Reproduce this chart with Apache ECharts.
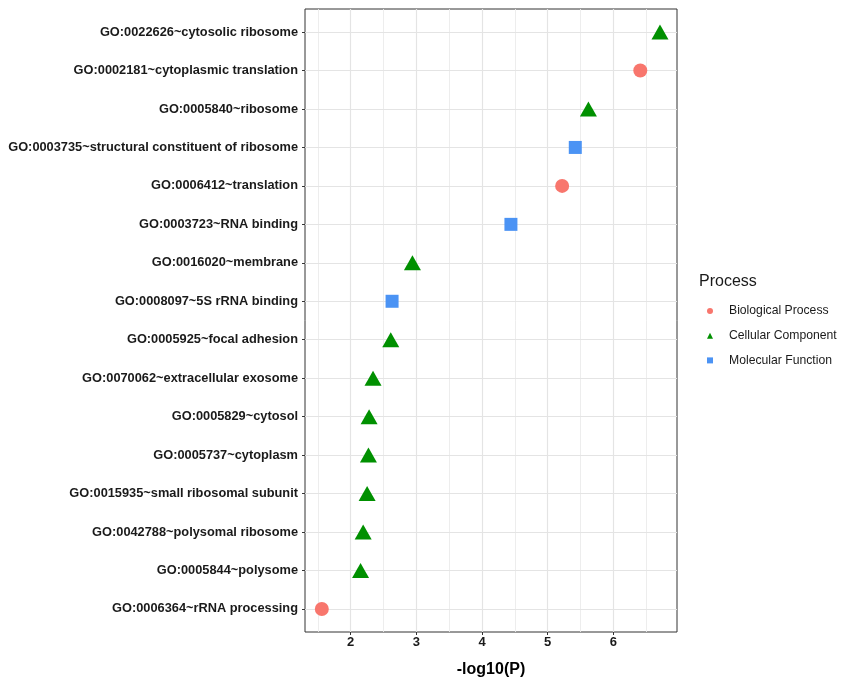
<!DOCTYPE html>
<html>
<head>
<meta charset="utf-8">
<script src="https://cdn.jsdelivr.net/npm/echarts@6/dist/echarts.min.js"></script>
<style>html,body{margin:0;padding:0;background:#fff}#chart{width:841px;height:677px}</style>
</head>
<body>
<div id="chart"></div>
<script>
const categories = [
  "GO:0022626~cytosolic ribosome",
  "GO:0002181~cytoplasmic translation",
  "GO:0005840~ribosome",
  "GO:0003735~structural constituent of ribosome",
  "GO:0006412~translation",
  "GO:0003723~RNA binding",
  "GO:0016020~membrane",
  "GO:0008097~5S rRNA binding",
  "GO:0005925~focal adhesion",
  "GO:0070062~extracellular exosome",
  "GO:0005829~cytosol",
  "GO:0005737~cytoplasm",
  "GO:0015935~small ribosomal subunit",
  "GO:0042788~polysomal ribosome",
  "GO:0005844~polysome",
  "GO:0006364~rRNA processing"
];
const logP = [6.71, 6.41, 5.62, 5.42, 5.22, 4.44, 2.94, 2.63, 2.61, 2.34, 2.28, 2.27, 2.25, 2.19, 2.15, 1.56];
const processOf = [
  "Cellular Component", "Biological Process", "Cellular Component", "Molecular Function",
  "Biological Process", "Molecular Function", "Cellular Component", "Molecular Function",
  "Cellular Component", "Cellular Component", "Cellular Component", "Cellular Component",
  "Cellular Component", "Cellular Component", "Cellular Component", "Biological Process"
];
const processNames = ["Biological Process", "Cellular Component", "Molecular Function"];
const xTicks = [2, 3, 4, 5, 6];
const xMinorGrid = [1.5, 2.5, 3.5, 4.5, 5.5, 6.5];

const colors = {"Biological Process": "#F8766D", "Cellular Component": "#009000", "Molecular Function": "#4B93F4"};
const symbols = {"Biological Process": "circle", "Cellular Component": "triangle", "Molecular Function": "rect"};
const sizes = {"Biological Process": 14, "Cellular Component": [17, 15], "Molecular Function": 13};

const catPos = categories.map((c, i) => i + 1);

const gridSeries = {
  type: 'scatter', name: '_grid', data: [], silent: true, z: 0,
  markLine: {
    silent: true, z: 0, symbol: ['none', 'none'], label: {show: false}, animation: false,
    emphasis: {disabled: true},
    data: [
      ...xMinorGrid.map(v => ({xAxis: v, lineStyle: {color: '#EBEBEB', width: 0.9, type: 'solid'}})),
      ...xTicks.map(v => ({xAxis: v, lineStyle: {color: '#E4E4E4', width: 1.2, type: 'solid'}})),
      ...catPos.map(v => ({yAxis: v, lineStyle: {color: '#E4E4E4', width: 1.2, type: 'solid'}}))
    ]
  }
};

const dataSeries = processNames.map(p => ({
  type: 'scatter', name: p, z: 3,
  symbol: symbols[p], symbolSize: sizes[p],
  itemStyle: {color: colors[p], opacity: 1},
  data: logP.map((v, i) => processOf[i] === p ? [v, catPos[i]] : null).filter(d => d)
}));

const chart = echarts.init(document.getElementById('chart'), null, {renderer: 'canvas'});
chart.setOption({
  animation: false,
  backgroundColor: '#ffffff',
  title: {
    text: 'Process', left: 694, top: 269,
    textStyle: {fontFamily: 'Liberation Sans, Arial, sans-serif', fontSize: 16, fontWeight: 'normal', color: '#1a1a1a'}
  },
  legend: {
    data: processNames.map(n => ({name: n, itemStyle: {color: colors[n]}})),
    orient: 'vertical', left: 707, top: 304, padding: 0,
    itemWidth: 6, itemHeight: 6, itemGap: 10.7,
    formatter: n => '{t|' + n + '}',
    textStyle: {
      fontFamily: 'Liberation Sans, Arial, sans-serif', fontSize: 12.2, color: '#1a1a1a', lineHeight: 14,
      rich: {t: {fontFamily: 'Liberation Sans, Arial, sans-serif', fontSize: 12.2, color: '#1a1a1a', lineHeight: 14, padding: [0, 0, 0, 11]}}
    }
  },
  grid: {
    left: 305, top: 9, width: 372, height: 623, outerBoundsMode: 'none', containLabel: false,
    show: true, borderColor: '#333333', borderWidth: 1, backgroundColor: '#ffffff'
  },
  xAxis: {
    type: 'value', min: 1.304, max: 6.969,
    name: '-log10(P)', nameLocation: 'middle', nameGap: 30,
    nameTextStyle: {fontFamily: 'Liberation Sans, Arial, sans-serif', fontWeight: 'bold', fontSize: 16, color: '#000'},
    axisLine: {show: false},
    axisTick: {show: true, customValues: xTicks, length: 3, lineStyle: {color: '#333333'}},
    axisLabel: {
      customValues: xTicks, margin: 4,
      fontFamily: 'Liberation Sans, Arial, sans-serif', fontWeight: 'bold', fontSize: 13, color: '#1a1a1a',
      formatter: v => (Number.isInteger(v) ? String(v) : '')
    },
    splitLine: {show: false}
  },
  yAxis: {
    type: 'value', min: 0.4, max: 16.6, inverse: true,
    axisLine: {show: false},
    axisTick: {show: true, customValues: catPos, length: 3, lineStyle: {color: '#333333'}},
    axisLabel: {
      customValues: catPos, margin: 7,
      fontFamily: 'Liberation Sans, Arial, sans-serif', fontWeight: 'bold', fontSize: 12.8, color: '#1a1a1a',
      formatter: v => categories[Math.round(v) - 1] || ''
    },
    splitLine: {show: false}
  },
  series: [gridSeries, ...dataSeries]
});
</script>
</body>
</html>
